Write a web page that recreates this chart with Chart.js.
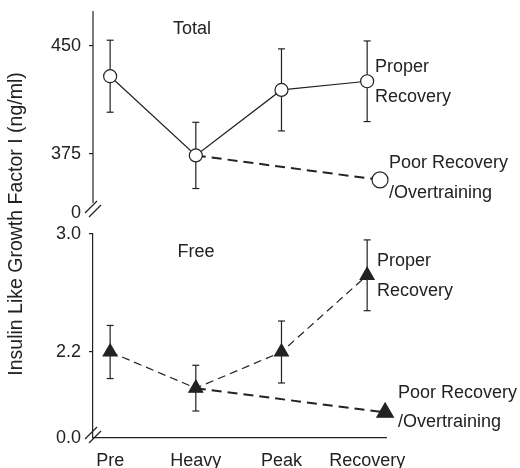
<!DOCTYPE html>
<html>
<head>
<meta charset="utf-8">
<script src="https://cdn.jsdelivr.net/npm/chart.js@4.4.0/dist/chart.umd.min.js"></script>
<style>
  html, body { margin: 0; padding: 0; background: #fff; }
  #wrap { position: relative; width: 520px; height: 468px; }
  #wrap canvas { position: absolute; left: 0; top: 0; }
</style>
</head>
<body>
<div id="wrap">
  <canvas id="chart-total" width="520" height="468"></canvas>
  <canvas id="chart-free" width="520" height="468"></canvas>
</div>
<script>
const phases = ['Pre', 'Heavy', 'Peak', 'Recovery'];

// Total IGF-I (ng/ml)
const total_proper = [429, 374, 419.5, 425.5];
const total_proper_err = [25, 23, 28.5, 28];
const total_poor_x = [1, 3.15];
const total_poor = [374, 357];
const total_ticks = [334, 375, 450];          // first tick sits below the axis break
const total_tick_labels = ['0', '375', '450'];

// Free IGF-I (ng/ml)
const free_proper = [2.2, 1.955, 2.2, 2.72];
const free_proper_err = [0.18, 0.155, 0.21, 0.24];
const free_poor_x = [1, 3.21];
const free_poor = [1.955, 1.79];
const free_ticks = [1.617, 2.2, 3.0];
const free_tick_labels = ['0.0', '2.2', '3.0'];

const INK = '#222';
const FONT_FAMILY = '"Liberation Sans", Arial, Helvetica, sans-serif';
const FONT = { family: FONT_FAMILY, size: 18 };

function errorPoints(values, errs) {
    const pts = [];
    values.forEach((v, i) => {
        pts.push({ x: i, y: v - errs[i] });
        pts.push({ x: i, y: v + errs[i] });
        pts.push({ x: i, y: null });
    });
    return pts;
}

// texts, axis line and the "//" break marks
const decor = {
    id: 'decor',
    afterDraw(chart, args, opts) {
        const ctx = chart.ctx;
        const area = chart.chartArea;
        ctx.save();
        ctx.strokeStyle = INK;
        ctx.lineWidth = 1.2;
        if (opts.axisEnd) {
            ctx.beginPath();
            ctx.moveTo(area.left, area.top);
            ctx.lineTo(area.left, opts.axisEnd);
            ctx.stroke();
        }
        if (opts.breakAt) {
            const bx = area.left, by = opts.breakAt;
            [-2, 2].forEach(off => {
                ctx.beginPath();
                ctx.moveTo(bx - 6 + off, by + 6 + off);
                ctx.lineTo(bx + 6 + off, by - 6 + off);
                ctx.stroke();
            });
        }
        ctx.fillStyle = INK;
        ctx.font = '18px ' + FONT_FAMILY;
        ctx.textBaseline = 'middle';
        (opts.labels || []).forEach(l => {
            ctx.textAlign = l.align || 'left';
            ctx.fillText(l.text, l.x, l.y);
        });
        if (opts.yTitle) {
            ctx.font = '19.5px ' + FONT_FAMILY;
            ctx.translate(17, 224);
            ctx.rotate(-Math.PI / 2);
            ctx.textAlign = 'center';
            ctx.fillText(opts.yTitle, 0, 0);
        }
        ctx.restore();
    }
};

function makePanel(canvasId, cfg) {
    return new Chart(document.getElementById(canvasId), {
        type: 'line',
        data: {
            datasets: [
                {
                    data: cfg.proper.map((v, i) => ({ x: i, y: v })),
                    borderColor: INK,
                    borderWidth: 1.2,
                    borderDash: cfg.properDash,
                    pointStyle: cfg.marker,
                    pointRadius: cfg.markerSize,
                    pointBackgroundColor: cfg.markerFill,
                    pointBorderColor: INK,
                    pointBorderWidth: 1.2,
                    tension: 0,
                    clip: false
                },
                {
                    data: cfg.poorX.map((x, i) => ({ x: x, y: cfg.poor[i] })),
                    borderColor: INK,
                    borderWidth: 2,
                    borderDash: [10, 6],
                    pointStyle: cfg.marker,
                    pointRadius: [0, cfg.markerSize + 1.5],
                    pointBackgroundColor: cfg.markerFill,
                    pointBorderColor: INK,
                    pointBorderWidth: 1.2,
                    tension: 0,
                    clip: false
                },
                {
                    data: errorPoints(cfg.proper, cfg.err),
                    borderColor: INK,
                    borderWidth: 1.2,
                    spanGaps: false,
                    pointStyle: 'line',
                    pointRadius: 3.5,
                    pointBorderColor: INK,
                    pointBorderWidth: 1.2,
                    clip: false
                }
            ]
        },
        options: {
            responsive: false,
            animation: false,
            events: [],
            layout: { padding: cfg.padding, autoPadding: false },
            plugins: {
                legend: { display: false },
                tooltip: { enabled: false },
                decor: cfg.decor
            },
            scales: {
                x: {
                    type: 'linear',
                    min: -0.2,
                    max: 3.22,
                    display: cfg.showX,
                    afterBuildTicks: s => { s.ticks = phases.map((p, i) => ({ value: i })); },
                    afterFit: s => { s.height = cfg.showX ? 30 : 0; },
                    grid: { display: false },
                    border: { display: true, color: INK, width: 1.2 },
                    ticks: {
                        autoSkip: false,
                        maxRotation: 0,
                        padding: 4,
                        color: INK,
                        font: FONT,
                        callback: v => phases[v]
                    }
                },
                y: {
                    min: cfg.yMin,
                    max: cfg.yMax,
                    afterBuildTicks: s => { s.ticks = cfg.ticks.map(v => ({ value: v })); },
                    afterFit: s => {
                        s.width = 93;
                        s.paddingTop = 0;
                        s.paddingBottom = 0;
                    },
                    grid: {
                        drawOnChartArea: false,
                        tickLength: 4,
                        lineWidth: 1.2,
                        color: c => (c.index === 0 ? 'rgba(0,0,0,0)' : INK)
                    },
                    border: { display: cfg.yBorder, color: INK, width: 1.2 },
                    ticks: {
                        autoSkip: false,
                        padding: 8,
                        color: INK,
                        font: FONT,
                        callback: (v, i) => cfg.tickLabels[i]
                    }
                }
            }
        },
        plugins: [decor]
    });
}

makePanel('chart-total', {
    proper: total_proper, err: total_proper_err,
    poorX: total_poor_x, poor: total_poor,
    properDash: [],
    marker: 'circle', markerSize: 6.5, markerFill: '#fff',
    yMin: 334, yMax: 474.3,
    ticks: total_ticks, tickLabels: total_tick_labels,
    yBorder: false, showX: false,
    padding: { left: 0, right: 134, top: 11, bottom: 255 },
    decor: {
        axisEnd: 203,
        breakAt: 209,
        yTitle: 'Insulin Like Growth Factor I (ng/ml)',
        labels: [
            { text: 'Total', x: 192, y: 29, align: 'center' },
            { text: 'Proper', x: 375, y: 67 },
            { text: 'Recovery', x: 375, y: 97 },
            { text: 'Poor Recovery', x: 389, y: 163 },
            { text: '/Overtraining', x: 389, y: 193 }
        ]
    }
});

makePanel('chart-free', {
    proper: free_proper, err: free_proper_err,
    poorX: free_poor_x, poor: free_poor,
    properDash: [8, 5],
    marker: 'triangle', markerSize: 8, markerFill: INK,
    yMin: 1.617, yMax: 3.0,
    ticks: free_ticks, tickLabels: free_tick_labels,
    yBorder: true, showX: true,
    padding: { left: 0, right: 134, top: 234, bottom: 0 },
    decor: {
        breakAt: 435,
        labels: [
            { text: 'Free', x: 196, y: 252, align: 'center' },
            { text: 'Proper', x: 377, y: 261 },
            { text: 'Recovery', x: 377, y: 291 },
            { text: 'Poor Recovery', x: 398, y: 393 },
            { text: '/Overtraining', x: 398, y: 422 }
        ]
    }
});
</script>
</body>
</html>
